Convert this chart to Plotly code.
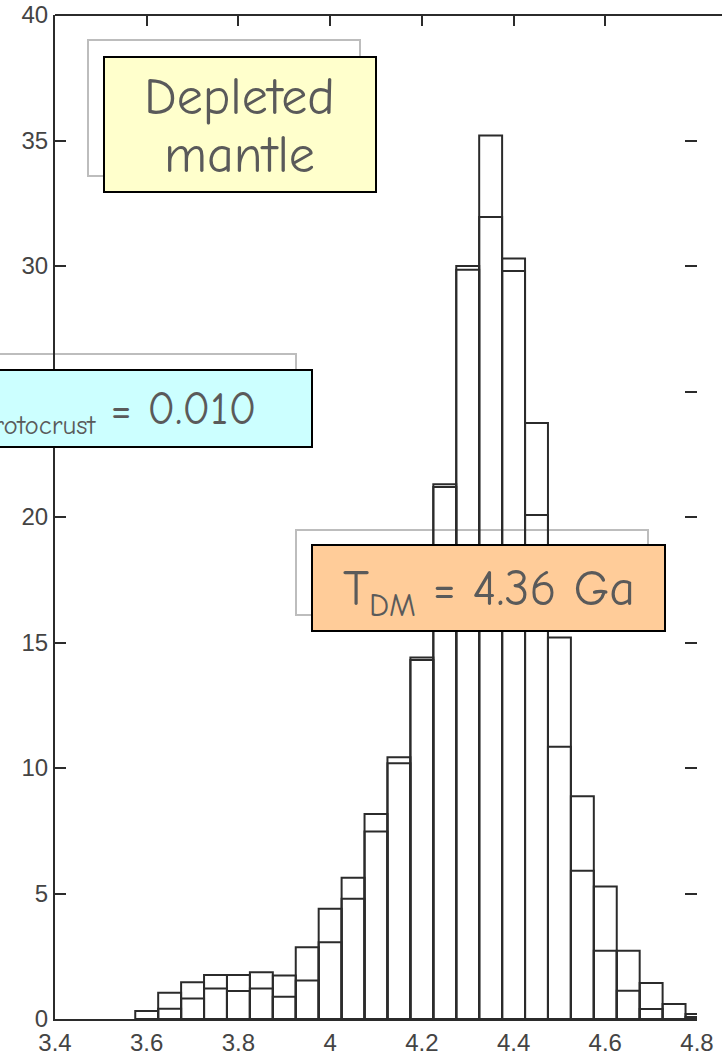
import plotly.graph_objects as go

# ---- data ----
bin_centers = [3.60, 3.65, 3.70, 3.75, 3.80, 3.85, 3.90, 3.95, 4.00, 4.05,
               4.10, 4.15, 4.20, 4.25, 4.30, 4.35, 4.40, 4.45, 4.50, 4.55,
               4.60, 4.65, 4.70, 4.75, 4.80]
counts_outer = [0.32, 1.05, 1.46, 1.75, 1.75, 1.86, 1.73, 2.86, 4.39, 5.63,
                8.17, 10.43, 14.4, 21.3, 30.0, 35.2, 30.3, 23.75, 15.2, 8.87,
                5.28, 2.72, 1.43, 0.60, 0.20]
counts_inner = [0.0, 0.41, 0.82, 1.22, 1.12, 1.22, 0.89, 1.53, 3.06, 4.79,
                7.47, 10.19, 14.3, 21.2, 29.85, 31.95, 29.8, 20.08, 10.85, 5.91,
                2.72, 1.13, 0.40, 0.0, 0.08]
bin_width = 0.05

x_ticks = [3.4, 3.6, 3.8, 4.0, 4.2, 4.4, 4.6, 4.8]
x_tick_labels = ["3.4", "3.6", "3.8", "4", "4.2", "4.4", "4.6", "4.8"]
y_ticks = [0, 5, 10, 15, 20, 25, 30, 35, 40]
y_tick_labels = ["0", "5", "10", "15", "20", "25", "30", "35", "40"]

label_depleted = ["Depleted", "mantle"]
label_f = "f<sub><span style='font-size:27px'>protocrust</span></sub> = 0.010"
label_tdm = "T<sub><span style='font-size:32px'>DM</span></sub> = 4.36 Ga"

# ---- layout geometry ----
W, H = 722, 1059
ML, MR, MT, MB = 55, 25, 15, 40
PW = W - ML - MR
PH = H - MT - MB


def px(xp):
    return (xp - ML) / PW


def py(yp):
    return (H - MB - yp) / PH


LINE = "#2b2b2b"
TXT = "#5a5a5a"
tick_font = dict(family="Liberation Sans Narrow, Liberation Sans, Arial", size=24, color="#444444")
box_font_family = "Comic Sans MS, Comic Neue, Lato, sans-serif"

fig = go.Figure()
fig.add_trace(go.Bar(
    x=bin_centers, y=counts_outer, width=bin_width,
    marker=dict(color="rgba(0,0,0,0)", line=dict(color=LINE, width=2)),
    xaxis="x", yaxis="y", showlegend=False, hoverinfo="skip"))
fig.add_trace(go.Bar(
    x=bin_centers, y=counts_inner, width=bin_width,
    marker=dict(color="rgba(0,0,0,0)", line=dict(color=LINE, width=2)),
    xaxis="x2", yaxis="y2", showlegend=False, hoverinfo="skip"))

shapes = []
# grey offset frames (behind bars)
for (x0, y0, x1, y1) in [(88, 40, 360, 176), (-60, 354, 296, 431), (296, 530, 648, 615)]:
    shapes.append(dict(type="rect", xref="paper", yref="paper",
                       x0=px(x0), x1=px(x1), y0=py(y1), y1=py(y0),
                       line=dict(color="#bdbdbd", width=2), fillcolor="rgba(0,0,0,0)",
                       layer="below"))
# coloured boxes
for (x0, y0, x1, y1, col) in [(104, 57, 376, 192, "#FFFFCC"),
                              (-60, 370, 312, 447, "#CCFFFF"),
                              (312, 545, 665, 631, "#FFCC99")]:
    shapes.append(dict(type="rect", xref="paper", yref="paper",
                       x0=px(x0), x1=px(x1), y0=py(y1), y1=py(y0),
                       line=dict(color="black", width=2), fillcolor=col, layer="above"))
# top frame line (extends to the page edge)
shapes.append(dict(type="line", xref="paper", yref="paper",
                   x0=0, x1=px(W + 2), y0=1, y1=1,
                   line=dict(color=LINE, width=2), layer="above"))

annotations = [
    dict(text=label_depleted[0], xref="paper", yref="paper", x=px(240), y=py(97),
         xanchor="center", yanchor="middle", showarrow=False,
         font=dict(family=box_font_family, size=52, color=TXT)),
    dict(text=label_depleted[1], xref="paper", yref="paper", x=px(240), y=py(155),
         xanchor="center", yanchor="middle", showarrow=False,
         font=dict(family=box_font_family, size=52, color=TXT)),
    dict(text=label_f, xref="paper", yref="paper", x=px(258), y=py(412),
         xanchor="right", yanchor="middle", showarrow=False,
         font=dict(family=box_font_family, size=46, color=TXT)),
    dict(text=label_tdm, xref="paper", yref="paper", x=px(489), y=py(592),
         xanchor="center", yanchor="middle", showarrow=False,
         font=dict(family=box_font_family, size=50, color=TXT)),
]

fig.update_layout(
    width=W, height=H,
    margin=dict(l=ML, r=MR, t=MT, b=MB, pad=0, autoexpand=False),
    paper_bgcolor="white", plot_bgcolor="white",
    barmode="overlay",
    showlegend=False,
    xaxis=dict(range=[3.4, 4.8], showline=True, linecolor=LINE, linewidth=2,
               ticks="", tickvals=x_ticks, ticktext=x_tick_labels, tickfont=tick_font,
               ticklabelstandoff=1, automargin=False,
               showgrid=False, zeroline=False, fixedrange=True),
    xaxis2=dict(range=[3.4, 4.8], overlaying="x", side="top", anchor="y",
                ticks="inside", ticklen=11, tickwidth=2, tickcolor=LINE,
                tickvals=x_ticks, showticklabels=False, showline=False, automargin=False,
                showgrid=False, zeroline=False, fixedrange=True),
    yaxis=dict(range=[0, 40], showline=True, linecolor=LINE, linewidth=2,
               ticks="inside", ticklen=11, tickwidth=2, tickcolor=LINE,
               tickvals=y_ticks, ticktext=y_tick_labels, tickfont=tick_font,
               automargin=False,
               showgrid=False, zeroline=False, fixedrange=True),
    yaxis2=dict(range=[0, 40], overlaying="y", side="right", anchor="x",
                ticks="inside", ticklen=12, tickwidth=2, tickcolor=LINE,
                tickvals=y_ticks, showticklabels=False, showline=False, automargin=False,
                showgrid=False, zeroline=False, fixedrange=True),
    shapes=shapes,
    annotations=annotations,
)

fig.write_html("out.html")
